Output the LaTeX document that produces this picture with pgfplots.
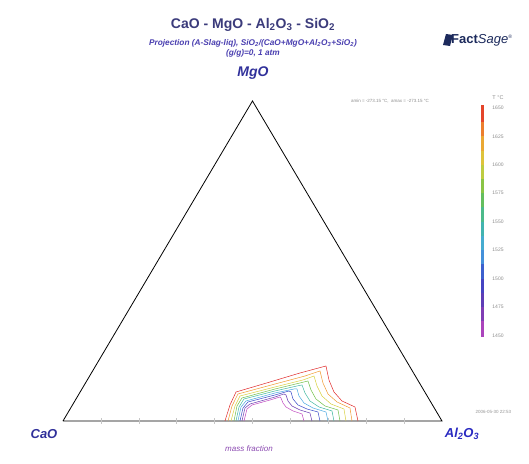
\documentclass[border=0pt]{standalone}
\usepackage{fontspec}
\setmainfont{Liberation Sans}
\usepackage{pgfplots}
\pgfplotsset{compat=1.18}

\definecolor{titlecol}{HTML}{3B3B7B}
\definecolor{subcol}{HTML}{4A3FB0}
\definecolor{labcol}{HTML}{30309A}
\definecolor{alcol}{HTML}{2828C0}
\definecolor{mfcol}{HTML}{8A48B0}
\definecolor{fsnavy}{HTML}{1C2A5C}
\definecolor{t1650}{HTML}{E02828}
\definecolor{t1625}{HTML}{F09A30}
\definecolor{t1600}{HTML}{D8D040}
\definecolor{t1575}{HTML}{70C048}
\definecolor{t1550}{HTML}{40B8A0}
\definecolor{t1525}{HTML}{48A8E0}
\definecolor{t1500}{HTML}{3848C8}
\definecolor{t1475}{HTML}{6A3AB0}
\definecolor{t1450}{HTML}{C048C0}

\pgfplotsset{
  colormap={fsT}{color(0)=(t1450) color(1)=(t1475) color(2)=(t1500) color(3)=(t1525)
    color(4)=(t1550) color(5)=(t1575) color(6)=(t1600) color(7)=(t1625) color(8)=(t1650)}
}

\begin{document}
\begin{tikzpicture}
\begin{axis}[
  scale only axis, width=379pt, height=320pt,
  xmin=0, xmax=1, ymin=0, ymax=1,
  axis lines=none, clip=false,
  at={(0,0)}, anchor=south west,
]
% page frame
\path (axis cs:-0.1662,-0.1313) rectangle (axis cs:1.2296,1.3156);

% composition triangle CaO - Al2O3 - MgO
\addplot[black, line width=0.8pt] coordinates {(0,0) (1,0) (0.5,1) (0,0)};
% small ticks along the CaO-Al2O3 edge
\addplot[ycomb, gray!45, line width=0.4pt, forget plot] coordinates {
 (0.1,0.01) (0.2,0.01) (0.3,0.01) (0.4,0.01) (0.5,0.01) (0.6,0.01) (0.7,0.01) (0.8,0.01) (0.9,0.01)};
\addplot[ycomb, gray!45, line width=0.4pt, forget plot] coordinates {
 (0.1,-0.01) (0.2,-0.01) (0.3,-0.01) (0.4,-0.01) (0.5,-0.01) (0.6,-0.01) (0.7,-0.01) (0.8,-0.01) (0.9,-0.01)};

% liquidus isotherms
\pgfplotsset{iso/.style={line width=0.5pt}}
\addplot[t1650, iso] coordinates {
 (0.4274,0) (0.4406,0.05) (0.4565,0.0906) (0.5462,0.1219) (0.6253,0.15) (0.6939,0.1719)
 (0.7018,0.1281) (0.7150,0.0906) (0.7361,0.0625) (0.7704,0.0438) (0.7784,0)};
\addplot[t1625, iso] coordinates {
 (0.4354,0) (0.4459,0.0469) (0.4617,0.0844) (0.5594,0.1156) (0.6385,0.1406) (0.6781,0.1563)
 (0.6860,0.1188) (0.6992,0.0844) (0.7230,0.0594) (0.7573,0.0406) (0.7625,0)};
\addplot[t1600, iso] coordinates {
 (0.4433,0) (0.4538,0.0469) (0.4670,0.0781) (0.5594,0.1063) (0.6332,0.1281) (0.6623,0.1406)
 (0.6702,0.1094) (0.6834,0.0781) (0.7071,0.0531) (0.7414,0.0375) (0.7467,0)};
\addplot[t1575, iso] coordinates {
 (0.4512,0) (0.4591,0.0469) (0.4723,0.0719) (0.5594,0.1) (0.6253,0.1188) (0.6464,0.125)
 (0.6544,0.0969) (0.6675,0.0688) (0.6913,0.0469) (0.7256,0.0344) (0.7309,0)};
\addplot[t1550, iso] coordinates {
 (0.4565,0) (0.4644,0.0438) (0.4776,0.0688) (0.5594,0.0938) (0.6174,0.1094) (0.6306,0.1125)
 (0.6385,0.0875) (0.6517,0.0625) (0.6755,0.0438) (0.7098,0.0313) (0.7150,0)};
\addplot[t1525, iso] coordinates {
 (0.4617,0) (0.4697,0.0438) (0.4828,0.0625) (0.5594,0.0875) (0.6095,0.1) (0.6174,0.1)
 (0.6227,0.0781) (0.6359,0.0563) (0.6596,0.0406) (0.6939,0.0281) (0.6992,0)};
\addplot[t1500, iso] coordinates {
 (0.4670,0) (0.4749,0.0406) (0.4881,0.0594) (0.5594,0.0813) (0.5963,0.0938) (0.6016,0.0906)
 (0.6069,0.0688) (0.6201,0.05) (0.6438,0.0375) (0.6728,0.0281) (0.6781,0)};
\addplot[t1475, iso] coordinates {
 (0.4723,0) (0.4802,0.0406) (0.4934,0.0531) (0.5594,0.075) (0.5831,0.0844) (0.5884,0.0813)
 (0.5937,0.0625) (0.6042,0.0469) (0.6253,0.0344) (0.6517,0.025) (0.6570,0)};
\addplot[t1450, iso] coordinates {
 (0.4776,0) (0.4855,0.0375) (0.4987,0.05) (0.5462,0.0656) (0.5726,0.075) (0.5752,0.0719)
 (0.5805,0.0563) (0.5884,0.0438) (0.6069,0.0313) (0.6306,0.0219) (0.6359,0)};

% temperature scale
\addplot[mesh, colormap name=fsT, point meta=explicit, point meta min=1450, point meta max=1650,
  line width=3pt] coordinates {
 (1.1082,0.2625)[1450] (1.1082,0.3119)[1462.5] (1.1082,0.3564)[1475] (1.1082,0.4008)[1487.5]
 (1.1082,0.4452)[1500] (1.1082,0.4896)[1512.5] (1.1082,0.5340)[1525] (1.1082,0.5784)[1537.5]
 (1.1082,0.6228)[1550] (1.1082,0.6672)[1562.5] (1.1082,0.7116)[1575] (1.1082,0.7560)[1587.5]
 (1.1082,0.8004)[1600] (1.1082,0.8448)[1612.5] (1.1082,0.8892)[1625] (1.1082,0.9336)[1637.5]
 (1.1082,0.9875)[1650]};
\foreach \t [count=\i from 0] in {1650,1625,1600,1575,1550,1525,1500,1475,1450} {
  \edef\temp{\noexpand\node[font=\noexpand\fontsize{5}{5}\noexpand\selectfont, text=gray!90]
    at (axis cs:1.1478,{0.978-0.0888*\i}) {\t};}
  \temp
}
\node[font=\fontsize{5.5}{6}\selectfont, text=gray!90] at (axis cs:1.1478,1.0094) {T °C};
\node[font=\fontsize{4.5}{5}\selectfont, text=gray!90] at (axis cs:0.8628,1.0)
  {amin = -273.15 °C, \ amax = -273.15 °C};

% titles
\node[font=\fontsize{14}{14}\selectfont\bfseries, text=titlecol] at (axis cs:0.5013,1.2375)
  {CaO - MgO - Al\textsubscript{2}O\textsubscript{3} - SiO\textsubscript{2}};
\node[font=\fontsize{8.3}{9}\selectfont\bfseries\itshape, text=subcol] at (axis cs:0.5013,1.1813)
  {Projection (A-Slag-liq), SiO\textsubscript{2}/(CaO+MgO+Al\textsubscript{2}O\textsubscript{3}+SiO\textsubscript{2})};
\node[font=\fontsize{8.3}{9}\selectfont\bfseries\itshape, text=subcol] at (axis cs:0.5013,1.15)
  {(g/g)=0, 1 atm};

% corner labels
\node[font=\fontsize{14}{14}\selectfont\bfseries\itshape, text=labcol] at (axis cs:0.5013,1.0875) {MgO};
\node[font=\fontsize{13}{13}\selectfont\bfseries\itshape, text=labcol] at (axis cs:-0.0501,-0.0406) {CaO};
\node[font=\fontsize{13}{13}\selectfont\bfseries\itshape, text=alcol] at (axis cs:1.0528,-0.0406)
  {Al\textsubscript{2}O\textsubscript{3}};
\node[font=\fontsize{8}{8}\selectfont\itshape, text=mfcol] at (axis cs:0.4908,-0.0875) {mass fraction};
\node[font=\fontsize{4.5}{5}\selectfont, text=gray!85, anchor=west] at (axis cs:1.0792,0.0281)
  {2006-05-30 22:53};

% FactSage mark
\node[font=\fontsize{13}{13}\selectfont, text=fsnavy, anchor=west, inner sep=0pt] (fs) at (axis cs:1.0,1.1906)
  {\hspace{9pt}\bfseries Fact\mdseries\itshape Sage\textsuperscript{\fontsize{5}{5}\selectfont\textregistered}};
\fill[fsnavy] ([xshift=1pt,yshift=-5pt]fs.west) -- ++(7pt,-1pt) -- ++(3pt,11pt) -- ++(-7pt,1pt) -- cycle;
\end{axis}
\end{tikzpicture}
\end{document}
